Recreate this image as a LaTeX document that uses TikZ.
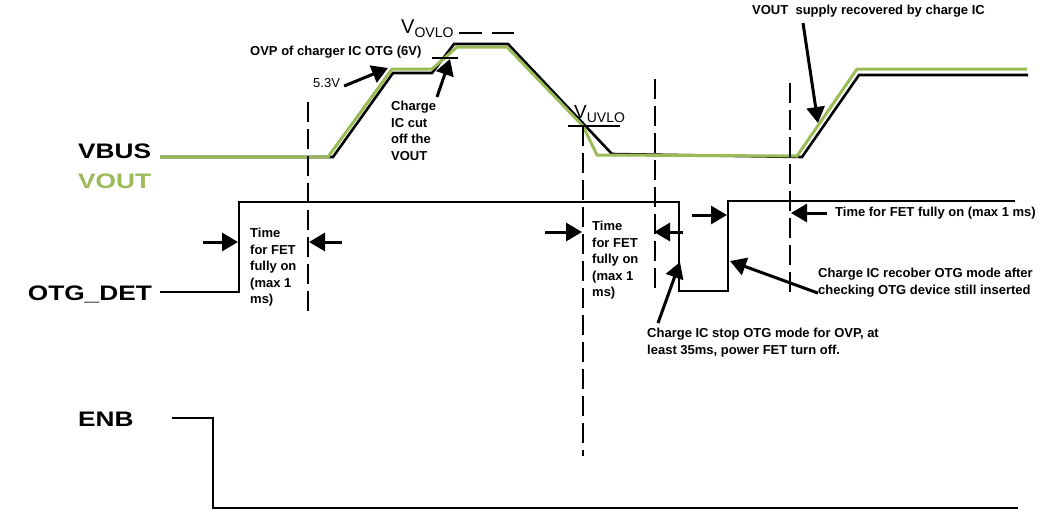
\documentclass[tikz,border=0pt]{standalone}
\usepackage{fontspec}
\setmainfont{Liberation Sans}
\usetikzlibrary{arrows.meta,positioning}
\definecolor{voutgreen}{RGB}{155,187,89}

\tikzset{
  sig/.style={line width=2.6pt, line join=miter},
  vout/.style={line width=3pt, voutgreen, line join=miter},
  cursor/.style={line width=2pt, dash pattern=on 20pt off 7pt},
  level/.style={line width=2pt},
  callout/.style={-{Triangle[length=16pt,width=18pt]}, line width=3pt},
  note/.style={font=\fontsize{13}{16.5}\selectfont\bfseries, align=left, inner sep=0pt},
  siglabel/.style={font=\fontsize{21}{21}\selectfont\bfseries, inner sep=0pt, anchor=base west}
}

\begin{document}
\begin{tikzpicture}[x=1pt,y=-1pt]
    \useasboundingbox (0,0) rectangle (1052,512);

    % Signal names
    \node[siglabel] (vbus) at (78,158) {\scalebox{1.25}[1]{VBUS}};
    \node[siglabel, text=voutgreen] (voutname) at (78,188) {\scalebox{1.25}[1]{VOUT}};
    \node[siglabel, anchor=base east] (otgdet) at (152,300) {\scalebox{1.25}[1]{OTG\_DET}};
    \node[siglabel] (enb) at (78,426) {\scalebox{1.25}[1]{ENB}};

    % VBUS (black) and VOUT (green)
    \draw[sig] (160,157) -- (333,157) -- (393,73) -- (432,73) -- (454,44) -- (508,44)
        -- (612,154) -- (802,157) -- (859,75) -- (1028,75);
    \draw[vout] (160,157) -- (328,157) -- (392,69) -- (432,69) -- (457,47) -- (507,47)
        -- (583,126) -- (597,155) -- (797,156) -- (857,69) -- (1027,69);

    % OTG_DET
    \draw[sig] (160,292) -- (239,292) -- (239,202) -- (679,202) -- (679,291)
        -- (728,291) -- (728,201) -- (1015,201);

    % ENB
    \draw[sig] (172,418) -- (213,418) -- (213,508) -- (1018,508);

    % Zeitmarken
    \draw[cursor] (308,102) -- (308,318);
    \draw[cursor] (583,126) -- (583,456);
    \draw[cursor] (655,79) -- (655,288);
    \draw[cursor] (790,83) -- (790,292);

    % Schwellen
    \draw[level] (432,58) -- (458,58);
    \draw[level] (568,126) -- (620,126);
    \draw[level, dash pattern=on 23pt off 10pt] (459,33) -- (514,33);
    \node[inner sep=0pt, anchor=base west] (vovlo) at (401,33)
        {\fontsize{20}{20}\selectfont V\raisebox{-4pt}{\fontsize{14}{14}\selectfont OVLO}};
    \node[inner sep=0pt, anchor=base west] (vuvlo) at (574,118)
        {\fontsize{19}{19}\selectfont V\raisebox{-4pt}{\fontsize{14}{14}\selectfont UVLO}};

    % Anmerkungen oben
    \node[note, anchor=west] (ovp) at (250,52) {OVP of charger IC OTG (6V)};
    \node[inner sep=0pt, anchor=west, font=\fontsize{13}{13}\selectfont] (v53) at (313,83) {5.3V};
    \coordinate (v53tip) at (388,68);
    \draw[callout] ([xshift=4pt,yshift=-3pt]v53.east) -- (v53tip);
    \node[note, anchor=north west] (cutoff) at (391,101) {Charge\\IC cut\\off the\\VOUT};
    \coordinate (cutofftip) at (450,59);
    \draw[callout] (437,97) -- (cutofftip);
    \node[note, anchor=north west] (recover) at (752,5) {VOUT\ \ supply recovered by charge IC};
    \coordinate (recovertip) at (818,123);
    \draw[callout] (803,23) -- (recovertip);

    % Einschaltzeiten FET
    \node[note, anchor=north west] (fet1) at (250,228) {Time\\for FET\\fully on\\(max 1\\ms)};
    \coordinate (fet1a) at (238,242);
    \coordinate (fet1b) at (309,242);
    \draw[callout] (203,242) -- (fet1a);
    \draw[callout] (342,242) -- (fet1b);
    \node[note, anchor=north west] (fet2) at (592,221) {Time\\for FET\\fully on\\(max 1\\ms)};
    \coordinate (fet2a) at (582,232);
    \coordinate (fet2b) at (654,232);
    \draw[callout] (545,232) -- (fet2a);
    \draw[callout] (683,232) -- (fet2b);
    \node[note, anchor=west] (fet3) at (835,213) {Time for FET fully on (max 1 ms)};
    \coordinate (fet3a) at (727,215);
    \coordinate (fet3b) at (791,213);
    \draw[callout] (692,215) -- (fet3a);
    \draw[callout] ([xshift=-8pt]fet3.west) -- (fet3b);

    % Anmerkungen unten
    \node[note, anchor=north west] (stop) at (647,328)
        {Charge IC stop OTG mode for OVP, at\\least 35ms, power FET turn off.};
    \coordinate (stoptip) at (680,262);
    \draw[callout] (658,323) -- (stoptip);
    \node[note, anchor=north west] (recob) at (818,268)
        {Charge IC recober OTG mode after\\checking OTG device still inserted};
    \coordinate (recobtip) at (730,261);
    \draw[callout] ([yshift=4pt]recob.south west) -- (recobtip);
\end{tikzpicture}
\end{document}
